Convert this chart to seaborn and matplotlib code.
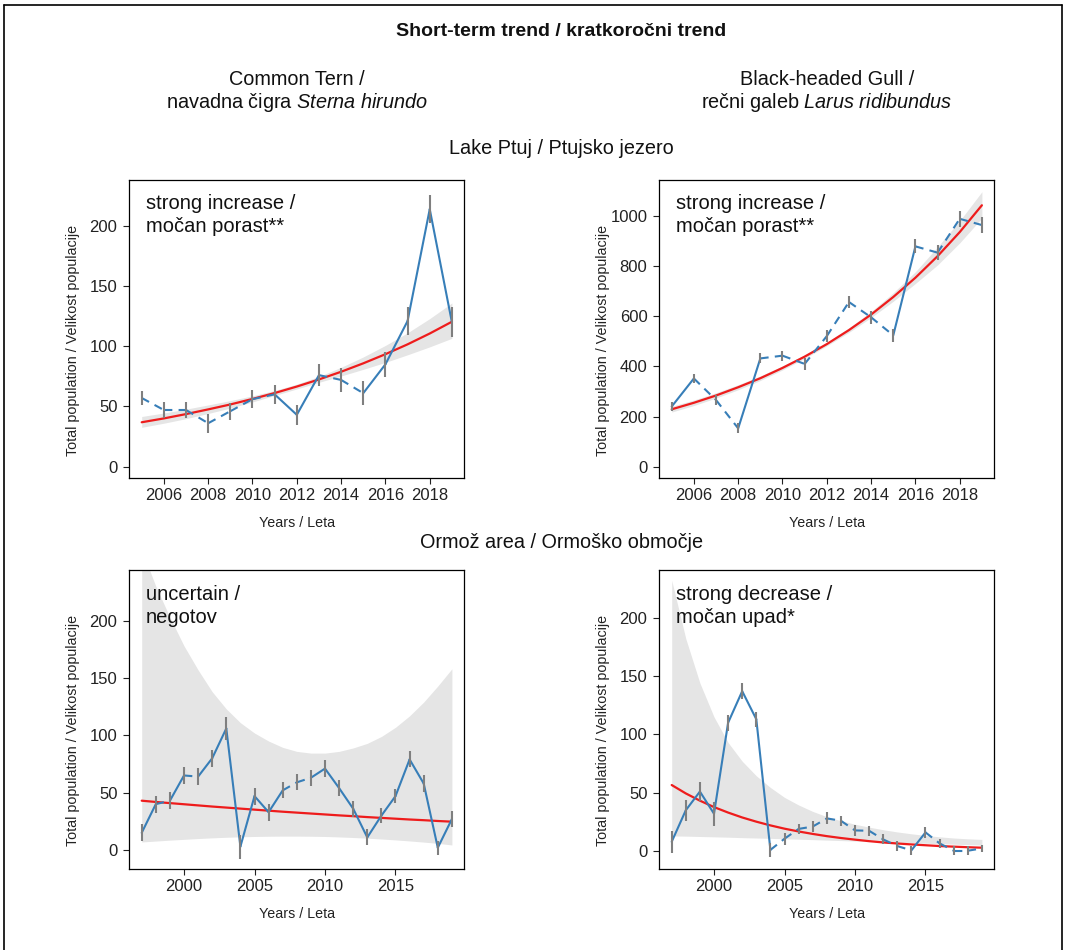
import matplotlib
matplotlib.use("Agg")
import matplotlib.pyplot as plt
from matplotlib.lines import Line2D
import numpy as np
import pandas as pd
import seaborn as sns

# ---- values ------------------------------------------------------------
years_ptuj = [2005, 2006, 2007, 2008, 2009, 2010, 2011, 2012, 2013, 2014,
              2015, 2016, 2017, 2018, 2019]
years_ormoz = [1997, 1998, 1999, 2000, 2001, 2002, 2003, 2004, 2005, 2006,
               2007, 2008, 2009, 2010, 2011, 2012, 2013, 2014, 2015, 2016,
               2017, 2018, 2019]

# Common Tern, Lake Ptuj
tern_ptuj_obs = [57, 47, 47, 36, 46, 56, 60, 43, 76, 72, 61, 85, 121, 214, 120]
tern_ptuj_err = [6.2, 6.6, 6.5, 8.0, 7.2, 7.6, 7.9, 8.3, 9.0, 9.7, 9.8, 10.4, 11.4, 11.8, 12.3]
tern_ptuj_solid = [0, 0, 0, 0, 0, 0, 1, 1, 0, 0, 1, 1, 1, 1]
tern_ptuj_trend = [36.8, 40.0, 43.6, 47.5, 51.6, 56.2, 61.1, 66.5, 72.4, 78.8,
                   85.8, 93.4, 101.6, 110.6, 120.4]
tern_ptuj_lo = [32.6, 36.0, 39.8, 44.1, 48.6, 53.7, 59.1, 64.5, 70.0, 75.3,
                80.8, 86.6, 92.9, 99.5, 106.6]
tern_ptuj_hi = [41.6, 44.5, 47.7, 51.2, 54.8, 58.8, 63.2, 68.5, 74.9, 82.5,
                91.1, 100.7, 111.2, 123.0, 136.0]

# Black-headed Gull, Lake Ptuj
gull_ptuj_obs = [240, 352, 266, 153, 432, 443, 410, 521, 657, 596, 524, 879, 854, 989, 964]
gull_ptuj_err = [16.6, 18, 20, 20, 20, 20, 23, 23, 25, 25, 25, 28, 29, 31, 33]
gull_ptuj_solid = [1, 0, 0, 1, 0, 0, 0, 0, 0, 0, 1, 0, 0, 0]
gull_ptuj_trend = [229, 255, 284, 317, 353, 394, 439, 489, 545, 607, 677, 754, 840, 936, 1043]
gull_ptuj_lo = [218, 244, 274, 307, 344, 386, 432, 482, 536, 595, 660, 731, 805, 893, 992]
gull_ptuj_hi = [241, 266, 295, 327, 362, 402, 446, 496, 554, 619, 694, 778, 877, 981, 1097]

# Common Tern, Ormoz area
tern_ormoz_obs = [15, 40, 43, 65, 64, 80, 106, 3, 47, 33, 52, 59, 63, 71, 54, 36,
                  11, 30, 47, 79, 58, 2, 27]
tern_ormoz_err = [7.3, 7.5, 7.3, 7.7, 7.3, 7.3, 9.9, 10.5, 7.4, 7.3, 7.0, 7.0,
                  6.8, 7.1, 7.0, 7.0, 7.0, 6.8, 6.4, 7.0, 7.0, 6.1, 6.8]
tern_ormoz_solid = [1, 0, 1, 0, 1, 1, 1, 1, 1, 1, 0, 0, 1, 1, 1, 1, 1, 1, 1, 1, 1, 1]
tern_ormoz_trend = [43.0, 41.9, 40.9, 39.9, 38.9, 37.9, 37.0, 36.1, 35.2, 34.3,
                    33.4, 32.6, 31.8, 31.0, 30.2, 29.5, 28.7, 28.0, 27.3, 26.6,
                    26.0, 25.3, 24.7]
tern_ormoz_lo = [7.0, 7.8, 8.6, 9.3, 10.0, 10.6, 11.1, 11.5, 11.8, 12.0, 12.1,
                 12.1, 12.0, 11.8, 11.4, 10.9, 10.3, 9.6, 8.8, 7.9, 6.9, 5.8, 4.4]
tern_ormoz_hi = [262, 230, 203, 178, 157, 138, 123, 111, 102, 95, 89.5, 86, 84.5,
                 84.5, 86, 89, 93, 99, 107, 117, 129, 143, 158]

# Black-headed Gull, Ormoz area
gull_ormoz_obs = [8, 35, 51, 32, 110, 137, 113, 1, 10.6, 19, 21, 28, 26, 17.7,
                  17.4, 10, 4.3, 0.6, 16, 6.6, 0.3, 0.3, 2.3]
gull_ormoz_err = [9.3, 9.0, 8.3, 10.4, 7.0, 6.7, 6.4, 5.7, 5.2, 4.6, 4.9, 5.1,
                  4.4, 4.6, 4.3, 4.3, 4.3, 4.0, 5.0, 3.7, 3.7, 3.7, 2.9]
gull_ormoz_solid = [1, 1, 1, 1, 1, 1, 1, 0, 0, 0, 0, 0, 0, 0, 0, 0, 0, 1, 0, 0, 0, 0]
gull_ormoz_trend = [56.6, 49.4, 43.2, 37.7, 33.0, 28.8, 25.2, 22.0, 19.2, 16.8,
                    14.7, 12.8, 11.2, 9.8, 8.5, 7.4, 6.5, 5.7, 5.0, 4.3, 3.8, 3.3, 2.9]
gull_ormoz_lo = [13, 12.8, 12.5, 12.2, 11.9, 11.5, 11.2, 10.9, 10.5, 10.2, 9.8,
                 9.4, 9.0, 8.6, 8.3, 7.9, 7.5, 7.1, 6.7, 6.3, 5.9, 5.5, 5.1]
gull_ormoz_hi = [232, 182, 144, 115, 93, 77, 64.5, 54.5, 46, 39.5, 34, 29.5, 26, 23,
                 20.5, 18.3, 16.4, 14.8, 13.4, 12.2, 11.2, 10.5, 10]

labels = ["strong increase /\nmočan porast**", "strong increase /\nmočan porast**",
          "uncertain /\nnegotov", "strong decrease /\nmočan upad*"]
species = ["Common Tern /\nnavadna čigra $Sterna$ $hirundo$",
           "Black-headed Gull /\nrečni galeb $Larus$ $ridibundus$"]
title = "Short-term trend / kratkoročni trend"
site_titles = ["Lake Ptuj / Ptujsko jezero", "Ormož area / Ormoško območje"]
xlabel = "Years / Leta"
ylabel = "Total population / Velikost populacije"

BLUE = "#377eb8"
RED = "#ee1c1c"
GREY = "#7f7f7f"
BAND = "#e5e5e5"

sns.set_style("ticks")
plt.rcParams["font.family"] = ["Liberation Sans", "DejaVu Sans"]
plt.rcParams["mathtext.fontset"] = "custom"
plt.rcParams["mathtext.it"] = "Liberation Sans:italic"
plt.rcParams["mathtext.rm"] = "Liberation Sans"


def panel(ax, years, obs, err, solid, trend, lo, hi, label, xticks, yticks, xlim, ylim):
    obs = np.asarray(obs, dtype=float)
    err = np.asarray(err, dtype=float)
    ax.fill_between(years, lo, hi, color=BAND, lw=0, zorder=1)
    sns.lineplot(x=years, y=trend, ax=ax, color=RED, lw=1.6, zorder=3)
    rows = []
    for i in range(len(years) - 1):
        kind = "solid" if solid[i] else "dashed"
        rows.append(dict(year=years[i], n=obs[i], seg=i, kind=kind))
        rows.append(dict(year=years[i + 1], n=obs[i + 1], seg=i, kind=kind))
    seg = pd.DataFrame(rows)
    sns.lineplot(data=seg, x="year", y="n", units="seg", style="kind",
                 estimator=None, dashes={"solid": "", "dashed": (4, 3)},
                 color=BLUE, lw=1.5, legend=False, ax=ax, zorder=4)
    ax.vlines(years, obs - err, obs + err, color=GREY, lw=1.5, zorder=5)

    ax.set_xlim(*xlim)
    ax.set_ylim(*ylim)
    ax.set_xticks(xticks)
    ax.set_yticks(yticks)
    ax.tick_params(labelsize=12, length=4.5, width=0.8, colors="#222222")
    ax.tick_params(axis="y", pad=4)
    ax.tick_params(axis="x", pad=3)
    for s in ax.spines.values():
        s.set_visible(True)
        s.set_color("black")
        s.set_linewidth(0.9)
    ax.set_xlabel(xlabel, fontsize=10.3, color="#222222")
    ax.set_ylabel(ylabel, fontsize=10.3, color="#222222")
    ax.xaxis.set_label_coords(0.5, -0.128)
    ax.yaxis.set_label_coords(-0.147, 0.462)
    ax.text(0.05, 0.952, label, transform=ax.transAxes, ha="left", va="top",
            fontsize=14.5, color="#111111", linespacing=1.28)


fig = plt.figure(figsize=(10.66, 9.5), dpi=100)
W, H = 1066, 950


def add_axes(l, t, r, b):
    return fig.add_axes([l / W, 1 - b / H, (r - l) / W, (b - t) / H])


ax1 = add_axes(129.3, 179.7, 464.3, 477.7)
ax2 = add_axes(659.3, 179.7, 994.3, 477.7)
ax3 = add_axes(129.3, 570.3, 464.3, 868.7)
ax4 = add_axes(659.3, 570.3, 994.3, 868.7)

top_x = (2004.44, 2019.56)
bot_x = (1996.12, 2019.88)
panel(ax1, years_ptuj, tern_ptuj_obs, tern_ptuj_err, tern_ptuj_solid, tern_ptuj_trend,
      tern_ptuj_lo, tern_ptuj_hi, labels[0], [2006, 2008, 2010, 2012, 2014, 2016, 2018],
      [0, 50, 100, 150, 200], top_x, (-9.3, 238.5))
panel(ax2, years_ptuj, gull_ptuj_obs, gull_ptuj_err, gull_ptuj_solid, gull_ptuj_trend,
      gull_ptuj_lo, gull_ptuj_hi, labels[1], [2006, 2008, 2010, 2012, 2014, 2016, 2018],
      [0, 200, 400, 600, 800, 1000], top_x, (-43.9, 1145))
panel(ax3, years_ormoz, tern_ormoz_obs, tern_ormoz_err, tern_ormoz_solid, tern_ormoz_trend,
      tern_ormoz_lo, tern_ormoz_hi, labels[2], [2000, 2005, 2010, 2015],
      [0, 50, 100, 150, 200], bot_x, (-16.3, 243.9))
panel(ax4, years_ormoz, gull_ormoz_obs, gull_ormoz_err, gull_ormoz_solid, gull_ormoz_trend,
      gull_ormoz_lo, gull_ormoz_hi, labels[3], [2000, 2005, 2010, 2015],
      [0, 50, 100, 150, 200], bot_x, (-15.1, 240.6))

# headings
fig.text(561 / W, 1 - 32 / H, title, ha="center", va="center", fontsize=14,
         fontweight="bold", color="#111111")
fig.text(296.8 / W, 1 - 92 / H, species[0], ha="center", va="center", fontsize=14.3,
         color="#111111", linespacing=1.15)
fig.text(826.8 / W, 1 - 92 / H, species[1], ha="center", va="center", fontsize=14.3,
         color="#111111", linespacing=1.15)
fig.text(561.8 / W, 1 - 149 / H, site_titles[0], ha="center", va="center",
         fontsize=14.3, color="#111111")
fig.text(561.8 / W, 1 - 542 / H, site_titles[1], ha="center", va="center",
         fontsize=14.3, color="#111111")

# outer frame (open at the bottom)
for xs, ys in [([4, 4], [950, 5]), ([4, 1062], [5, 5]), ([1062, 1062], [5, 950])]:
    fig.add_artist(Line2D([x / W for x in xs], [1 - y / H for y in ys],
                          transform=fig.transFigure, color="black", lw=1.2))

fig.savefig("out.png", dpi=100)
